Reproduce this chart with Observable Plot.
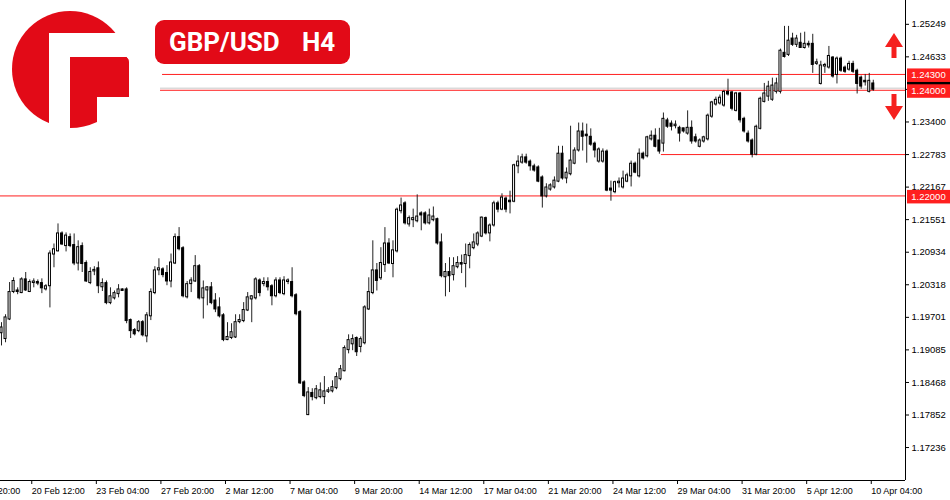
<!DOCTYPE html>
<html><head><meta charset="utf-8">
<script src="https://cdn.jsdelivr.net/npm/d3@7"></script>
<script src="https://cdn.jsdelivr.net/npm/@observablehq/plot@0.6"></script>
<style>
html,body{margin:0;padding:0;background:#fff;}
#chart{width:950px;height:500px;position:relative;overflow:hidden;}
</style></head><body><div id="chart"></div>
<script>
// GBP/USD H4 candles (bar index 0 = first visible bar)
const opens = [
1.1941,1.1930,1.1967,1.2019,1.2020,1.2017,1.2041,1.2019,1.2036,1.2036,1.2034,1.2024,1.2030,1.2090,1.2096,1.2128,1.2106,1.2121,1.2106,1.2073,
1.2104,1.2072,1.2036,1.2058,1.2062,1.2028,1.2034,1.1998,1.2007,1.2015,1.2022,1.2022,1.1964,1.1945,1.1945,1.1960,1.1935,1.1973,1.2017,1.2060,
1.2060,1.2053,1.2039,1.2073,1.2121,1.2100,1.2009,1.2034,1.2039,1.2066,1.2007,1.2022,1.2026,1.2001,1.1988,1.1973,1.1928,1.1932,1.1933,1.1962,
1.1964,1.1984,1.2005,1.2007,1.2039,1.2034,1.2036,1.2028,1.2011,1.2039,1.2015,1.2038,1.2036,1.2011,1.1979,1.1846,1.1786,1.1826,1.1818,1.1820,
1.1820,1.1830,1.1831,1.1837,1.1854,1.1869,1.1909,1.1920,1.1930,1.1915,1.1922,1.1986,1.2017,1.2058,1.2045,1.2070,1.2109,1.2072,1.2096,1.2172,
1.2185,1.2147,1.2155,1.2153,1.2166,1.2166,1.2149,1.2155,1.2155,1.2111,1.2047,1.2055,1.2051,1.2066,1.2072,1.2072,1.2087,1.2102,1.2109,1.2124,
1.2157,1.2130,1.2145,1.2185,1.2175,1.2194,1.2190,1.2190,1.2257,1.2264,1.2272,1.2264,1.2255,1.2253,1.2234,1.2200,1.2213,1.2217,1.2228,1.2279,
1.2234,1.2242,1.2262,1.2287,1.2321,1.2315,1.2311,1.2298,1.2266,1.2266,1.2283,1.2213,1.2208,1.2225,1.2217,1.2228,1.2238,1.2260,1.2238,1.2279,
1.2276,1.2308,1.2313,1.2304,1.2300,1.2342,1.2336,1.2333,1.2328,1.2327,1.2319,1.2328,1.2310,1.2294,1.2304,1.2308,1.2351,1.2374,1.2376,1.2372,
1.2396,1.2395,1.2362,1.2393,1.2345,1.2317,1.2304,1.2279,1.2328,1.2379,1.2389,1.2383,1.2398,1.2398,1.2470,1.2468,1.2497,1.2487,1.2489,1.2481,
1.2487,1.2487,1.2451,1.2413,1.2446,1.2444,1.2461,1.2430,1.2459,1.2442,1.2440,1.2449,1.2436,1.2423,1.2417,1.2398,1.2412];
const highs = [
1.1960,1.1975,1.2036,1.2045,1.2026,1.2045,1.2055,1.2041,1.2043,1.2041,1.2043,1.2032,1.2096,1.2109,1.2147,1.2132,1.2130,1.2128,1.2128,1.2115,
1.2111,1.2077,1.2064,1.2066,1.2075,1.2043,1.2039,1.2026,1.2020,1.2032,1.2024,1.2026,1.1967,1.1949,1.1964,1.1964,1.1979,1.2024,1.2066,1.2081,
1.2064,1.2068,1.2090,1.2128,1.2140,1.2104,1.2038,1.2045,1.2087,1.2070,1.2039,1.2028,1.2036,1.2015,1.2007,1.1977,1.1960,1.1958,1.1975,1.1975,
1.1998,1.2017,1.2011,1.2045,1.2043,1.2045,1.2045,1.2032,1.2045,1.2045,1.2047,1.2043,1.2064,1.2015,1.1983,1.1850,1.1837,1.1835,1.1841,1.1846,
1.1858,1.1837,1.1850,1.1865,1.1879,1.1916,1.1937,1.1937,1.1933,1.1933,1.1992,1.2045,1.2115,1.2072,1.2102,1.2140,1.2119,1.2115,1.2177,1.2196,
1.2189,1.2162,1.2175,1.2202,1.2170,1.2170,1.2175,1.2179,1.2158,1.2128,1.2072,1.2083,1.2083,1.2085,1.2088,1.2109,1.2111,1.2128,1.2132,1.2160,
1.2160,1.2147,1.2190,1.2190,1.2204,1.2198,1.2209,1.2260,1.2276,1.2279,1.2279,1.2268,1.2260,1.2257,1.2238,1.2223,1.2223,1.2236,1.2294,1.2294,
1.2253,1.2332,1.2291,1.2338,1.2338,1.2336,1.2327,1.2302,1.2291,1.2289,1.2287,1.2228,1.2228,1.2234,1.2247,1.2243,1.2266,1.2264,1.2289,1.2283,
1.2313,1.2323,1.2327,1.2328,1.2357,1.2347,1.2342,1.2342,1.2332,1.2328,1.2361,1.2342,1.2317,1.2308,1.2313,1.2355,1.2379,1.2387,1.2391,1.2400,
1.2421,1.2398,1.2396,1.2396,1.2349,1.2323,1.2308,1.2334,1.2387,1.2413,1.2417,1.2423,1.2423,1.2478,1.2521,1.2521,1.2508,1.2504,1.2508,1.2510,
1.2493,1.2506,1.2459,1.2455,1.2451,1.2483,1.2464,1.2463,1.2463,1.2446,1.2455,1.2455,1.2440,1.2427,1.2430,1.2432,1.2419];
const lows = [
1.1916,1.1922,1.1964,1.2015,1.2013,1.2015,1.2019,1.2017,1.2026,1.2030,1.2015,1.2020,1.1988,1.2064,1.2094,1.2106,1.2094,1.2102,1.2068,1.2058,
1.2055,1.2036,1.2032,1.2049,1.2015,1.2019,1.1994,1.1994,1.2003,1.2007,1.2020,1.1958,1.1930,1.1935,1.1941,1.1933,1.1922,1.1964,1.2013,1.2049,
1.2045,1.2030,1.2026,1.2070,1.2096,1.2007,1.2005,1.2017,1.2036,1.2003,1.1967,1.1992,1.1994,1.1979,1.1969,1.1924,1.1926,1.1928,1.1930,1.1958,
1.1960,1.1981,1.1960,1.2003,1.2009,1.2028,1.2020,1.1992,1.2007,1.2013,1.2011,1.2032,1.2007,1.1973,1.1843,1.1818,1.1784,1.1812,1.1814,1.1816,
1.1805,1.1826,1.1827,1.1833,1.1850,1.1867,1.1901,1.1907,1.1896,1.1903,1.1918,1.1983,1.2013,1.2020,1.2040,1.2055,1.2070,1.2045,1.2092,1.2166,
1.2145,1.2141,1.2140,1.2149,1.2134,1.2145,1.2145,1.2151,1.2107,1.2045,1.2009,1.2017,1.2039,1.2062,1.2053,1.2026,1.2062,1.2098,1.2104,1.2121,
1.2126,1.2113,1.2141,1.2168,1.2172,1.2168,1.2166,1.2187,1.2242,1.2260,1.2260,1.2247,1.2245,1.2225,1.2177,1.2196,1.2209,1.2213,1.2225,1.2230,
1.2223,1.2238,1.2259,1.2283,1.2285,1.2262,1.2294,1.2272,1.2262,1.2262,1.2208,1.2190,1.2204,1.2215,1.2213,1.2225,1.2217,1.2242,1.2234,1.2268,
1.2272,1.2304,1.2291,1.2279,1.2283,1.2328,1.2323,1.2327,1.2302,1.2319,1.2315,1.2298,1.2300,1.2291,1.2300,1.2304,1.2347,1.2370,1.2372,1.2368,
1.2389,1.2361,1.2359,1.2338,1.2319,1.2300,1.2272,1.2276,1.2325,1.2376,1.2379,1.2379,1.2393,1.2393,1.2461,1.2464,1.2483,1.2481,1.2480,1.2478,
1.2480,1.2432,1.2447,1.2410,1.2432,1.2440,1.2423,1.2412,1.2434,1.2432,1.2436,1.2432,1.2393,1.2402,1.2408,1.2395,1.2398];
const closes = [
1.1950,1.1969,1.2017,1.2038,1.2019,1.2041,1.2022,1.2036,1.2037,1.2035,1.2026,1.2028,1.2090,1.2098,1.2128,1.2109,1.2124,1.2106,1.2073,1.2102,
1.2072,1.2039,1.2055,1.2059,1.2030,1.2034,1.1998,1.2009,1.2015,1.2022,1.2021,1.1964,1.1945,1.1939,1.1960,1.1937,1.1973,1.2017,1.2058,1.2062,
1.2051,1.2039,1.2073,1.2121,1.2100,1.2011,1.2032,1.2039,1.2066,1.2007,1.2024,1.2026,1.1998,1.1986,1.1973,1.1928,1.1932,1.1941,1.1960,1.1964,
1.1983,1.2007,1.2009,1.2041,1.2017,1.2036,1.2028,1.2011,1.2039,1.2017,1.2039,1.2039,1.2011,1.1977,1.1846,1.1822,1.1827,1.1820,1.1833,1.1831,
1.1829,1.1831,1.1837,1.1856,1.1871,1.1911,1.1926,1.1928,1.1905,1.1928,1.1988,1.2017,1.2058,1.2040,1.2072,1.2109,1.2073,1.2096,1.2173,1.2181,
1.2149,1.2157,1.2157,1.2160,1.2164,1.2149,1.2162,1.2160,1.2111,1.2049,1.2055,1.2049,1.2066,1.2072,1.2071,1.2087,1.2106,1.2111,1.2128,1.2158,
1.2130,1.2143,1.2185,1.2175,1.2196,1.2175,1.2189,1.2257,1.2264,1.2272,1.2264,1.2257,1.2249,1.2228,1.2200,1.2215,1.2219,1.2228,1.2279,1.2234,
1.2243,1.2266,1.2285,1.2321,1.2313,1.2314,1.2298,1.2287,1.2287,1.2283,1.2211,1.2211,1.2225,1.2226,1.2232,1.2238,1.2260,1.2245,1.2279,1.2272,
1.2310,1.2313,1.2294,1.2285,1.2345,1.2332,1.2332,1.2334,1.2319,1.2323,1.2328,1.2304,1.2304,1.2304,1.2310,1.2351,1.2376,1.2381,1.2385,1.2396,
1.2393,1.2366,1.2393,1.2344,1.2323,1.2304,1.2279,1.2330,1.2383,1.2393,1.2406,1.2408,1.2412,1.2474,1.2464,1.2493,1.2487,1.2497,1.2481,1.2487,
1.2486,1.2449,1.2452,1.2446,1.2447,1.2464,1.2427,1.2459,1.2438,1.2436,1.2449,1.2436,1.2413,1.2408,1.2416,1.2417,1.2402];

const xTickIndex = [-9,7,23,39,55,71,87,103,119,135,151,167,183,199,215];
const xTickLabels = ["15 Feb 20:00","20 Feb 12:00","23 Feb 04:00","27 Feb 20:00","2 Mar 12:00","7 Mar 04:00","9 Mar 20:00","14 Mar 12:00","17 Mar 04:00","21 Mar 20:00","24 Mar 12:00","29 Mar 04:00","31 Mar 20:00","5 Apr 12:00","10 Apr 04:00"];
const yTicks = [1.25249,1.24633,1.24017,1.23400,1.22783,1.22167,1.21551,1.20934,1.20318,1.19701,1.19085,1.18468,1.17852,1.17236];

const levelPrices = [1.2430, 1.2400, 1.22783, 1.2200];
const levelStartBar = [39.9, 39.4, 163.5, -0.25];
const labeledLevels = [1.2430, 1.2400, 1.2200];
const bidPrice = 1.2404;
const bidStartBar = 39.4;

const xDomain = [-0.248, 223.98];
const yDomain = [1.16612, 1.25700];

const bars = opens.map((o, i) => ({k: i, o, h: highs[i], l: lows[i], c: closes[i]}));
const bulls = bars.filter(d => d.c >= d.o);
const bears = bars.filter(d => d.c < d.o);
const levels = levelPrices.map((p, i) => ({p, s: levelStartBar[i]}));

const RED = "#ff1f1f";
const font = "'Liberation Sans', Arial, sans-serif";

const chart = Plot.plot({
  width: 950, height: 500,
  marginLeft: 0, marginRight: 45, marginTop: 0, marginBottom: 20,
  style: {fontFamily: font, fontSize: "9px", background: "#fff", color: "#000", overflow: "hidden"},
  x: {domain: xDomain, axis: null},
  y: {domain: yDomain, axis: null},
  marks: [
    Plot.ruleY([bidPrice], {x1: bidStartBar, x2: xDomain[1], stroke: "#c8c8c8", strokeWidth: 1}),
    Plot.ruleY(levels, {y: "p", x1: "s", x2: xDomain[1], stroke: RED, strokeWidth: 1}),
    Plot.ruleX(bars, {x: "k", y1: "l", y2: "h", stroke: "#222", strokeWidth: 1}),
    Plot.rect(bulls, {x1: d => d.k - 0.25, x2: d => d.k + 0.25, y1: "c", y2: "o", fill: "#fff", stroke: "#000", strokeWidth: 1, insetTop: -0.5, insetBottom: -0.5}),
    Plot.rect(bears, {x1: d => d.k - 0.25, x2: d => d.k + 0.25, y1: "o", y2: "c", fill: "#000", stroke: "#000", strokeWidth: 1, insetTop: -0.5, insetBottom: -0.5}),
    Plot.ruleX([xDomain[1]], {stroke: "#000", strokeWidth: 1}),
    Plot.ruleY([yDomain[0]], {stroke: "#000", strokeWidth: 1}),
    Plot.axisX(xTickIndex, {anchor: "bottom", tickFormat: d => xTickLabels[xTickIndex.indexOf(d)], textAnchor: "start", tickSize: 4, tickPadding: 3, dx: 2, label: null, fontSize: 9}),
    Plot.axisY(yTicks, {anchor: "right", tickFormat: d => d.toFixed(5), tickSize: 3, tickPadding: 3, label: null, fontSize: 9.5})
  ]
});

document.getElementById("chart").appendChild(chart);

// Price labels on the right scale
const ys = chart.scale("y");
const svg = d3.select(chart);
const g = svg.append("g").attr("text-anchor", "start");
const yBid = ys.apply(bidPrice);
g.append("rect").attr("x", 907).attr("y", yBid - 6.5).attr("width", 43).attr("height", 13).attr("fill", "#000");
labeledLevels.forEach(p => {
  const yy = ys.apply(p) + 1;
  g.append("rect").attr("x", 907).attr("y", yy - 6.5).attr("width", 43).attr("height", 13.5).attr("fill", RED);
  g.append("text").attr("x", 928.5).attr("y", yy).attr("dy", "0.35em").attr("text-anchor", "middle")
    .attr("fill", "#fff").attr("font-family", font).attr("font-size", 9.5).text(p.toFixed(5));
});

// Up / down arrows
const ARW = "#f5201e";
g.append("path").attr("d", "M894,33 L885,47 L891.5,47 L891.5,58 L896.5,58 L896.5,47 L903,47 Z").attr("fill", ARW);
g.append("path").attr("d", "M891.5,94 L896.5,94 L896.5,106 L903,106 L894,120 L885,106 L891.5,106 Z").attr("fill", ARW);

// Logo block
const LOGO = "#e20a17";
const lg = svg.append("g");
lg.append("rect").attr("x", 0).attr("y", 0).attr("width", 159).attr("height", 138).attr("fill", "#fff");
lg.append("circle").attr("cx", 70).attr("cy", 69).attr("r", 58).attr("fill", LOGO);
lg.append("rect").attr("x", 49).attr("y", 33).attr("width", 21).attr("height", 100).attr("fill", "#fff");
lg.append("rect").attr("x", 49).attr("y", 33).attr("width", 90).attr("height", 24).attr("fill", "#fff");
lg.append("rect").attr("x", 97).attr("y", 97).attr("width", 40).attr("height", 40).attr("fill", "#fff");
lg.append("path").attr("d", "M70,57 L124,57 Q129,57 129,62 L129,97 L97,97 L97,122 Q84,128 70,128 Z").attr("fill", LOGO);

// Title badge
const tg = svg.append("g").attr("text-anchor", "start");
tg.append("rect").attr("x", 155).attr("y", 20).attr("width", 195).attr("height", 44).attr("rx", 9).attr("fill", LOGO);
tg.append("text").attr("x", 169).attr("y", 51).attr("text-anchor", "start").attr("fill", "#fff").attr("font-family", "Roboto, 'Open Sans', sans-serif")
  .attr("font-weight", 700).attr("font-size", 26).text("GBP/USD");
tg.append("text").attr("x", 302).attr("y", 51).attr("text-anchor", "start").attr("fill", "#fff").attr("font-family", "Roboto, 'Open Sans', sans-serif")
  .attr("font-weight", 700).attr("font-size", 26).text("H4");
</script>
</body></html>
